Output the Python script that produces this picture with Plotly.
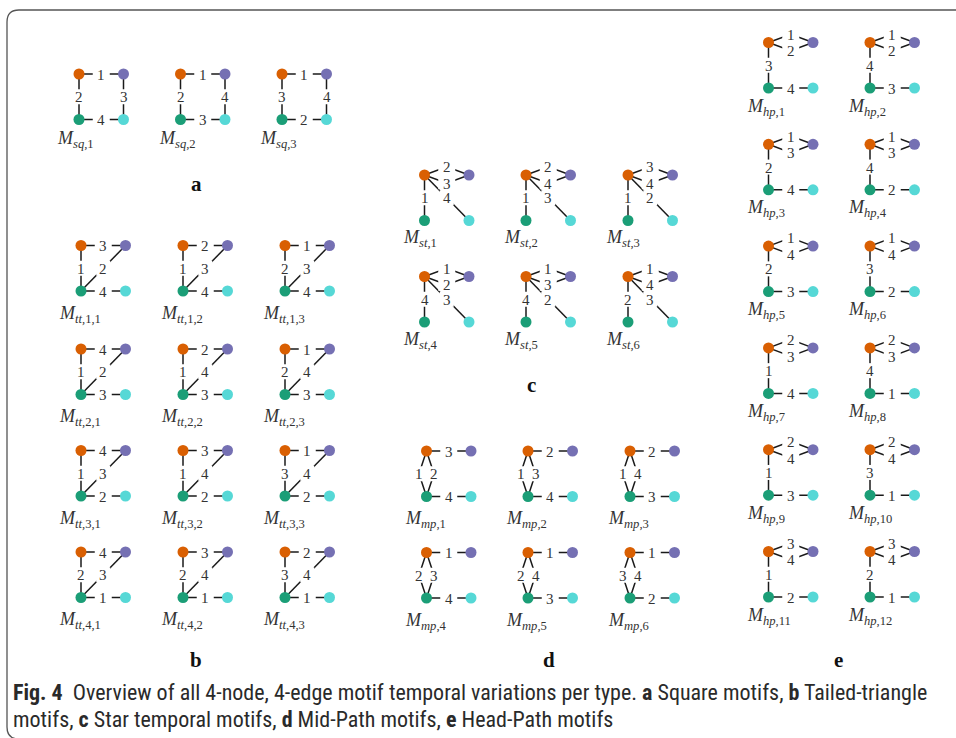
import plotly.graph_objects as go

W, H = 956, 738

# Node colours: top-left, top-right, bottom-left, bottom-right
ORANGE, PURPLE, GREEN, CYAN = "#d95f02", "#7570b3", "#1b9e77", "#56d8d6"
EDGE_COLOR = "#1a1a1a"
TEXT_COLOR = "#333333"

# ---- temporal edge orders per motif family ----
# Square: top, left, right, bottom
sq_names = ["1", "2", "3"]
sq_top = [1, 1, 1]
sq_left = [2, 2, 3]
sq_right = [3, 4, 4]
sq_bottom = [4, 3, 2]

# Tailed triangle: top, left, diagonal, bottom
tt_names = ["1,1", "1,2", "1,3", "2,1", "2,2", "2,3",
            "3,1", "3,2", "3,3", "4,1", "4,2", "4,3"]
tt_top = [3, 2, 1, 4, 2, 1, 4, 3, 1, 4, 3, 2]
tt_left = [1, 1, 2, 1, 1, 2, 1, 1, 3, 2, 2, 3]
tt_diag = [2, 3, 3, 2, 4, 4, 3, 4, 4, 3, 4, 4]
tt_bottom = [4, 4, 4, 3, 3, 3, 2, 2, 2, 1, 1, 1]

# Star: upper parallel, lower parallel, vertical, diagonal
st_names = ["1", "2", "3", "4", "5", "6"]
st_upper = [2, 2, 3, 1, 1, 1]
st_lower = [3, 4, 4, 2, 3, 4]
st_vert = [1, 1, 1, 4, 4, 2]
st_diag = [4, 3, 2, 3, 2, 3]

# Mid-path: top, left parallel, right parallel, bottom
mp_names = ["1", "2", "3", "4", "5", "6"]
mp_top = [3, 2, 2, 1, 1, 1]
mp_left = [1, 1, 1, 2, 2, 3]
mp_right = [2, 3, 4, 3, 4, 4]
mp_bottom = [4, 4, 3, 4, 3, 2]

# Head-path: upper parallel, lower parallel, vertical, bottom
hp_names = [str(i) for i in range(1, 13)]
hp_upper = [1, 1, 1, 1, 1, 1, 2, 2, 2, 2, 3, 3]
hp_lower = [2, 2, 3, 3, 4, 4, 3, 3, 4, 4, 4, 4]
hp_vert = [3, 4, 2, 4, 2, 3, 1, 4, 1, 3, 1, 2]
hp_bottom = [4, 3, 4, 2, 3, 2, 4, 1, 3, 1, 2, 1]

# ---- layout of the panels (pixel space) ----
DX, DY = 44.5, 45.5
SQ_COLS, SQ_ROWS = [79, 180.5, 282], [74]
TT_COLS, TT_ROWS = [81, 183, 285], [245.5, 349, 450.5, 552]
ST_COLS, ST_ROWS = [424.5, 526, 628], [175, 276.5]
MP_COLS, MP_ROWS = [426.5, 528, 630], [451, 552.5]
HP_COLS, HP_ROWS = [768.5, 870], [42.5 + 101.8 * k for k in range(6)]

# masking box (w, h) behind each edge label, by edge orientation
BOX = {"h": (17, 12), "v": (11, 15), "d": (14, 15), "pv": (9, 15)}
LABEL_FONT = "Liberation Serif, DejaVu Serif, serif"

edge_x, edge_y = [], []
node_x, node_y, node_c = [], [], []
annotations = []
mask_shapes = []


def add_label(x, y, text, kind):
    w, h = BOX[kind]
    mask_shapes.append(dict(
        type="rect", xref="x", yref="y", layer="above",
        x0=x - w / 2, x1=x + w / 2, y0=y - h / 2, y1=y + h / 2,
        fillcolor="white", line=dict(width=0)))
    annotations.append(dict(
        x=x, y=y + 0.5, xref="x", yref="y", text=str(text), showarrow=False,
        font=dict(family=LABEL_FONT, size=15, color=TEXT_COLOR),
        xanchor="center", yanchor="middle", borderpad=0))


def edge(p, q, label, kind):
    edge_x.extend([p[0], q[0], None])
    edge_y.extend([p[1], q[1], None])
    add_label((p[0] + q[0]) / 2, (p[1] + q[1]) / 2, label, kind)


def bent(p, q, label, kind, ox=0.0, oy=0.0):
    mx, my = (p[0] + q[0]) / 2 + ox, (p[1] + q[1]) / 2 + oy
    edge_x.extend([p[0], mx, q[0], None])
    edge_y.extend([p[1], my, q[1], None])
    add_label(mx, my, label, kind)


def nodes(x0, y0):
    pts = [(x0, y0, ORANGE), (x0 + DX, y0, PURPLE),
           (x0, y0 + DY, GREEN), (x0 + DX, y0 + DY, CYAN)]
    for x, y, c in pts:
        node_x.append(x)
        node_y.append(y)
        node_c.append(c)
    return [(x, y) for x, y, _ in pts]


def name(x0, y0, fam, idx, off):
    annotations.append(dict(
        x=x0 - 24, y=y0 + DY + off, xref="x", yref="y",
        text=f"<i>M</i><sub><i>{fam}</i>,{idx}</sub>", showarrow=False,
        font=dict(family=LABEL_FONT, size=18, color=TEXT_COLOR),
        xanchor="left", yanchor="middle"))


def grid(cols, rows):
    return [(x, y) for y in rows for x in cols]


# Square motifs
for i, (x0, y0) in enumerate(grid(SQ_COLS, SQ_ROWS)):
    O, P, G, C = nodes(x0, y0)
    edge(O, P, sq_top[i], "h")
    edge(O, G, sq_left[i], "v")
    edge(P, C, sq_right[i], "v")
    edge(G, C, sq_bottom[i], "h")
    name(x0, y0, "sq", sq_names[i], 20)

# Tailed-triangle motifs
for i, (x0, y0) in enumerate(grid(TT_COLS, TT_ROWS)):
    O, P, G, C = nodes(x0, y0)
    edge(O, P, tt_top[i], "h")
    edge(O, G, tt_left[i], "v")
    edge(G, P, tt_diag[i], "d")
    edge(G, C, tt_bottom[i], "h")
    name(x0, y0, "tt", tt_names[i], 23)

# Star motifs
for i, (x0, y0) in enumerate(grid(ST_COLS, ST_ROWS)):
    O, P, G, C = nodes(x0, y0)
    bent(O, P, st_upper[i], "h", oy=-8.3)
    bent(O, P, st_lower[i], "h", oy=8.3)
    edge(O, G, st_vert[i], "v")
    edge(O, C, st_diag[i], "d")
    name(x0, y0, "st", st_names[i], 18)

# Mid-path motifs
for i, (x0, y0) in enumerate(grid(MP_COLS, MP_ROWS)):
    O, P, G, C = nodes(x0, y0)
    edge(O, P, mp_top[i], "h")
    bent(O, G, mp_left[i], "pv", ox=-7.5)
    bent(O, G, mp_right[i], "pv", ox=7.5)
    edge(G, C, mp_bottom[i], "h")
    name(x0, y0, "mp", mp_names[i], 23)

# Head-path motifs
for i, (x0, y0) in enumerate(grid(HP_COLS, HP_ROWS)):
    O, P, G, C = nodes(x0, y0)
    bent(O, P, hp_upper[i], "h", oy=-8.3)
    bent(O, P, hp_lower[i], "h", oy=8.3)
    edge(O, G, hp_vert[i], "v")
    edge(G, C, hp_bottom[i], "h")
    name(x0, y0, "hp", hp_names[i], 19)

# Panel letters
panel_letters = ["a", "b", "c", "d", "e"]
panel_pos = [(196, 184), (196, 660), (531, 385), (549, 660), (838, 660)]
for t, (x, y) in zip(panel_letters, panel_pos):
    annotations.append(dict(
        x=x, y=y, xref="x", yref="y", text=f"<b>{t}</b>", showarrow=False,
        font=dict(family=LABEL_FONT, size=21, color="#111111"),
        xanchor="center", yanchor="middle"))

# Caption
cap_font = dict(family="Liberation Sans Narrow, Roboto Condensed, Roboto, sans-serif",
                size=22, color="#2a2a2a")
caption_lines = [
    "<b>Fig. 4</b>  Overview of all 4-node, 4-edge motif temporal variations per type. "
    "<b>a</b> Square motifs, <b>b</b> Tailed-triangle",
    "motifs, <b>c</b> Star temporal motifs, <b>d</b> Mid-Path motifs, "
    "<b>e</b> Head-Path motifs",
]
for t, y in zip(caption_lines, [692, 719]):
    annotations.append(dict(
        x=11, y=y, xref="x", yref="y", text=t, showarrow=False,
        font=cap_font, xanchor="left", yanchor="middle"))

fig = go.Figure()
fig.add_trace(go.Scatter(
    x=edge_x, y=edge_y, mode="lines",
    line=dict(color=EDGE_COLOR, width=1.5), hoverinfo="skip"))
fig.add_trace(go.Scatter(
    x=node_x, y=node_y, mode="markers",
    marker=dict(size=11, color=node_c, line=dict(width=0)), hoverinfo="skip"))

frame = dict(
    type="path", xref="x", yref="y",
    path="M 960,10 L 19,10 Q 7,10 7,22 L 7,727 Q 7,739 19,739 L 960,739",
    line=dict(color="#555555", width=1.3))

fig.update_layout(
    width=W, height=H, margin=dict(l=0, r=0, t=0, b=0),
    paper_bgcolor="white", plot_bgcolor="white", showlegend=False,
    xaxis=dict(range=[0, W], visible=False, fixedrange=True),
    yaxis=dict(range=[H, 0], visible=False, fixedrange=True),
    annotations=annotations,
    shapes=mask_shapes + [frame],
)

fig.write_html("out.html")
